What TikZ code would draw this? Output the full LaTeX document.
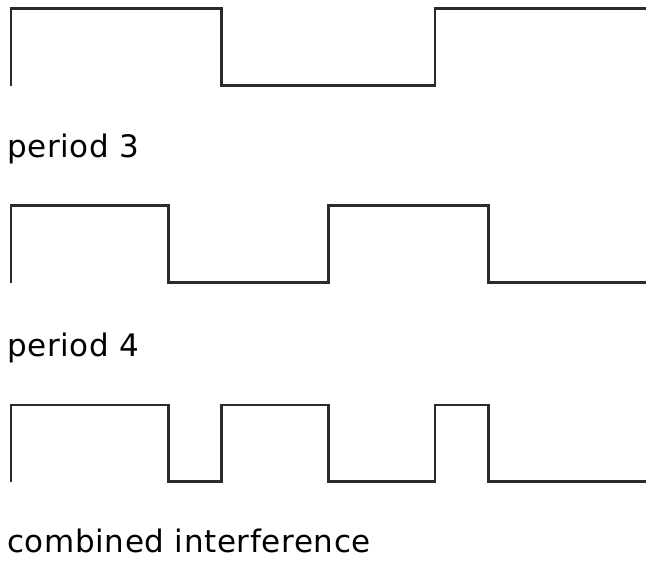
\documentclass[tikz,border=0pt]{standalone}
\usepackage{fontspec}
\setmainfont{DejaVu Sans}[LetterSpace=2]
\definecolor{wave}{HTML}{2B2B2B}
\begin{document}
\begin{tikzpicture}[x=1pt,y=-1pt,
  wavepath/.style={draw=wave,line width=2.8pt,line join=miter,line cap=butt},
  caption/.style={anchor=base west,inner sep=0pt,font=\fontsize{31}{36}\selectfont,text=black}]
  \useasboundingbox (0,0) rectangle (646,563);
  \begin{scope}
    \clip (0,0) rectangle (646,563);
    % period 3 square wave
    \draw[wavepath] (11,86) -- (11,8.5) -- (221.5,8.5) -- (221.5,85.5) -- (435,85.5) -- (435,8.5) -- (650,8.5);
    % period 4 square wave
    \draw[wavepath] (11,283) -- (11,205.5) -- (168.5,205.5) -- (168.5,282.5) -- (328.5,282.5) -- (328.5,205.5) -- (488.5,205.5) -- (488.5,282.5) -- (650,282.5);
    % combined wave
    \draw[wavepath] (11,482) -- (11,405) -- (168.5,405) -- (168.5,481.5) -- (221.5,481.5) -- (221.5,405) -- (328.5,405) -- (328.5,481.5) -- (435,481.5) -- (435,405) -- (488.5,405) -- (488.5,481.5) -- (650,481.5);
  \end{scope}
  \node[caption] (lbl3) at (7,157) {period 3};
  \node[caption] (lbl4) at (7,356) {period 4};
  \node[caption] (lblc) at (7,552) {combined interference};
\end{tikzpicture}
\end{document}
